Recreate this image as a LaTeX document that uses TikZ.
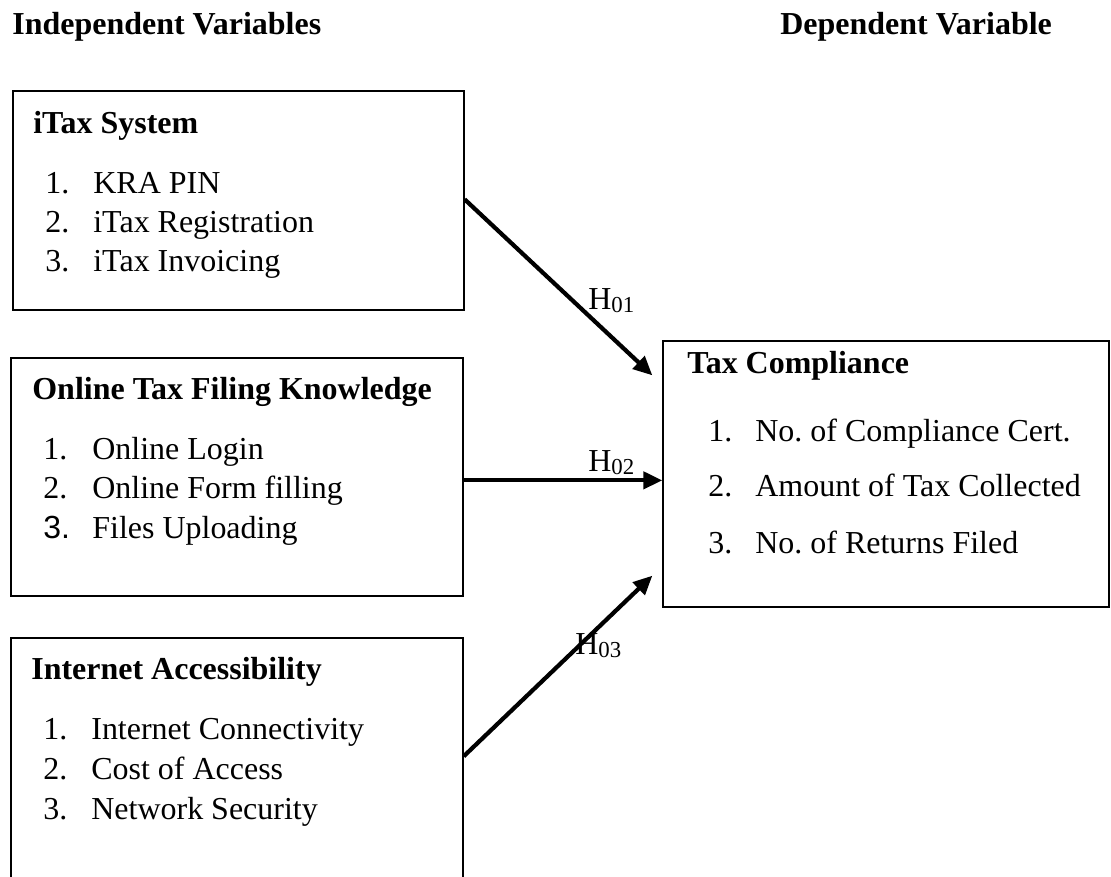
\documentclass[tikz,border=0pt]{standalone}
\usepackage{fontspec}
\setmainfont{Liberation Serif}
\newfontfamily\arialfont{Liberation Sans}
\usetikzlibrary{calc,fit,arrows.meta}
\frenchspacing

\tikzset{
  varbox/.style={draw=black, line width=0.75pt, inner sep=0pt, rectangle},
  txt/.style={anchor=base west, inner sep=0pt, font=\fontsize{18.2}{20}\selectfont},
  head/.style={txt, font=\fontsize{18.2}{20}\selectfont\bfseries},
  hyp/.style={anchor=base west, inner sep=0pt, font=\fontsize{18.2}{20}\selectfont},
  arr/.style={line width=2.4pt, -{Triangle[length=0.38cm,width=0.34cm]}}
}
\newcommand{\hsub}[1]{H\raisebox{-2pt}{\fontsize{13}{13}\selectfont #1}}

\begin{document}
\begin{tikzpicture}[x=0.02cm, y=-0.02cm]
\useasboundingbox (0,0) rectangle (1111,876);
\clip (0,0) rectangle (1111,876);

% column headings
\node[head] (hind) at (12,34) {Independent Variables};
\node[head] (hdep) at (780,34) {Dependent Variable};

% independent variable boxes
\node[varbox, fit={(13,91) (464,310)}] (b1) {};
\node[varbox, fit={(11,358) (463,596)}] (b2) {};
\node[varbox, fit={(11,638) (463,900)}] (b3) {};
% dependent variable box
\node[varbox, fit={(663,341) (1109,607)}] (b4) {};

% iTax System
\node[head] (b1t) at (33,133) {iTax System};
\node[txt] (b1n1) at (45,193) {1.};
\node[txt] (b1i1) at (93,193) {KRA PIN};
\node[txt] (b1n2) at (45,232) {2.};
\node[txt] (b1i2) at (93,232) {iTax Registration};
\node[txt] (b1n3) at (45,271) {3.};
\node[txt] (b1i3) at (93,271) {iTax Invoicing};

% Online Tax Filing Knowledge
\node[head] (b2t) at (32,399) {Online Tax Filing Knowledge};
\node[txt] (b2n1) at (43,459) {1.};
\node[txt] (b2i1) at (92,459) {Online Login};
\node[txt] (b2n2) at (43,498) {2.};
\node[txt] (b2i2) at (92,498) {Online Form filling};
\node[txt, font=\fontsize{18.2}{20}\arialfont] (b2n3) at (43,538) {3.};
\node[txt] (b2i3) at (92,538) {Files Uploading};

% Internet Accessibility
\node[head] (b3t) at (31,679) {Internet Accessibility};
\node[txt] (b3n1) at (43,739) {1.};
\node[txt] (b3i1) at (91,739) {Internet Connectivity};
\node[txt] (b3n2) at (43,779) {2.};
\node[txt] (b3i2) at (91,779) {Cost of Access};
\node[txt] (b3n3) at (43,819) {3.};
\node[txt] (b3i3) at (91,819) {Network Security};

% Tax Compliance
\node[head] (b4t) at (687,373) {Tax Compliance};
\node[txt] (b4n1) at (708,441) {1.};
\node[txt] (b4i1) at (755,441) {No. of Compliance Cert.};
\node[txt] (b4n2) at (708,496) {2.};
\node[txt] (b4i2) at (755,496) {Amount of Tax Collected};
\node[txt] (b4n3) at (708,553) {3.};
\node[txt] (b4i3) at (755,553) {No. of Returns Filed};

% connector end points
\coordinate (s1) at ($(b1.north east)+(0,109)$);
\coordinate (s2) at ($(b2.north east)+(0,123)$);
\coordinate (s3) at ($(b3.north east)+(0,119)$);
\coordinate (e1) at ($(b4.north west)+(-10,35)$);
\coordinate (e2) at (s2 -| b4.west);
\coordinate (e3) at ($(b4.south west)+(-10,-32)$);

% hypotheses
\draw[arr] (s1) -- (e1);
\draw[arr] (s2) -- (e2);
\draw[arr] (s3) -- (e3);

\node[hyp] (h1) at (588,309) {\hsub{01}};
\node[hyp] (h2) at (588,471) {\hsub{02}};
\node[hyp] (h3) at (575,654) {\hsub{03}};
\end{tikzpicture}
\end{document}
